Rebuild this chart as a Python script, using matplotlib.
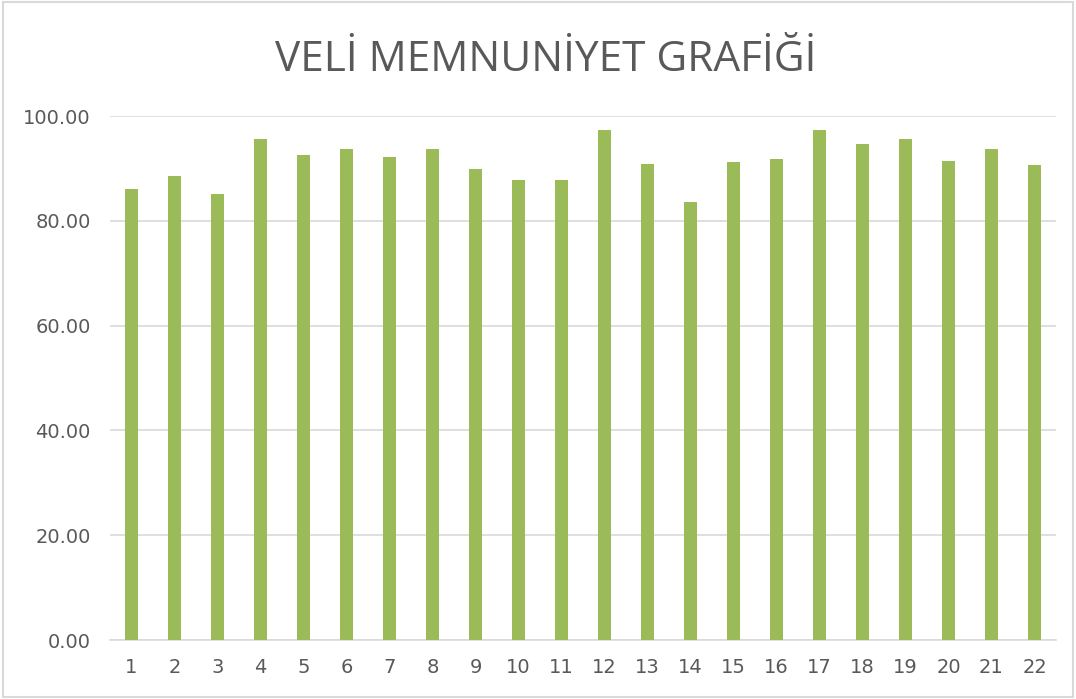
import matplotlib.pyplot as plt

categories = [str(i) for i in range(1, 23)]
values = [86.0, 88.5, 85.1, 95.6, 92.5, 93.7, 92.2, 93.7, 89.9, 87.8, 87.8,
          97.4, 90.8, 83.6, 91.2, 91.7, 97.3, 94.7, 95.6, 91.5, 93.7, 90.6]
yticks = [0, 20, 40, 60, 80, 100]

fig = plt.figure(figsize=(10.76, 6.99), dpi=100)
ax = fig.add_axes([110 / 1076, 1 - 640 / 699, 946 / 1076, 524 / 699])

x = range(1, len(values) + 1)
ax.bar(x, values, width=0.32, color='#9bbb59', zorder=3)

ax.set_xlim(0.5, len(values) + 0.5)
ax.set_ylim(0, 100)
ax.set_xticks(list(x))
ax.set_xticklabels(categories)
ax.set_yticks(yticks)
ax.set_yticklabels([f'{v:.2f}' for v in yticks])
ax.tick_params(length=0, labelsize=14, colors='#595959')
ax.tick_params(axis='x', pad=13)
ax.tick_params(axis='y', pad=14)
ax.grid(axis='y', color='#d9d9d9', linewidth=1.2, zorder=0)
for s in ['top', 'right', 'left']:
    ax.spines[s].set_visible(False)
ax.spines['bottom'].set_color('#d9d9d9')
ax.spines['bottom'].set_linewidth(1.2)

fig.text(546 / 1076, 1 - 60 / 699, 'VELİ MEMNUNİYET GRAFİĞİ', ha='center', va='center',
         fontsize=30.5, color='#595959', fontfamily='Open Sans')

# chart frame
fig.patches.append(plt.Rectangle((0.003, 0.003), 0.994, 0.994, transform=fig.transFigure,
                                 fill=False, edgecolor='#d9d9d9', linewidth=1.5))

fig.savefig('out.png', dpi=100)
